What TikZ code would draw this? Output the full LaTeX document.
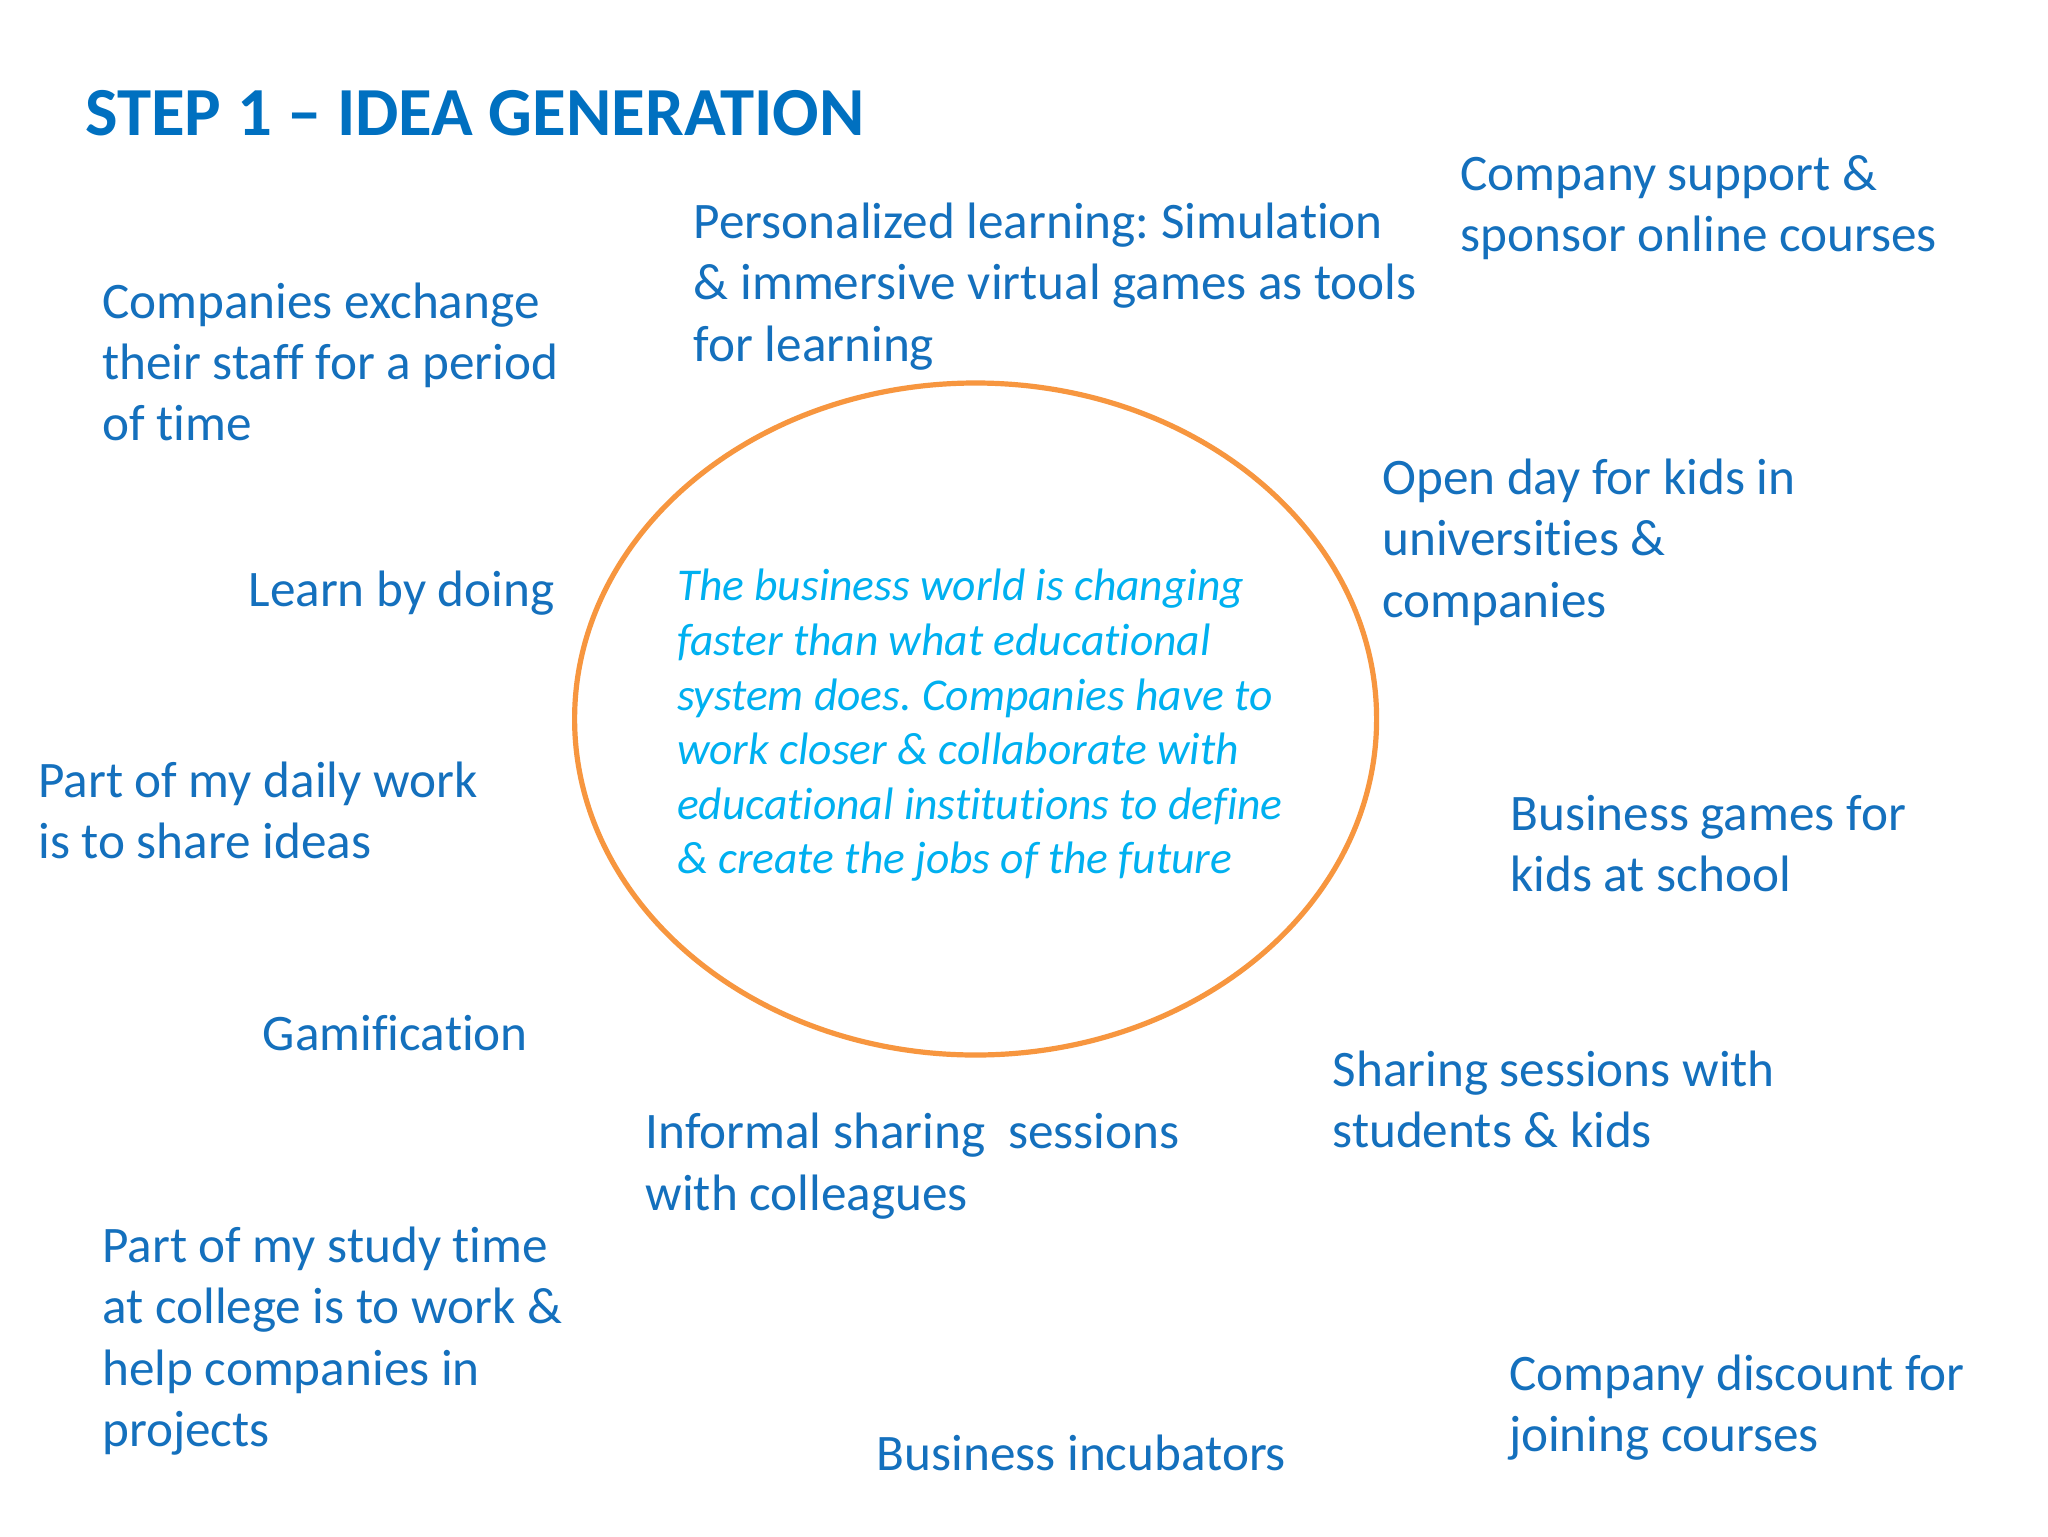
\documentclass[tikz,border=0pt]{standalone}
\usepackage{fontspec}
\setmainfont{Carlito}[Ligatures=NoCommon]
\frenchspacing
\definecolor{titleblue}{HTML}{0070C0}
\definecolor{bodyblue}{HTML}{1470BD}
\definecolor{centerblue}{HTML}{00B0F0}
\definecolor{ringorange}{HTML}{F7963F}
\begin{document}
\begin{tikzpicture}[x=0.5pt,y=-0.5pt,
  idea/.style={anchor=base west,inner sep=0pt,align=left,text=bodyblue,
    font=\fontsize{25.6}{30.7}\selectfont},
  titletext/.style={anchor=base west,inner sep=0pt,text=titleblue,
    font=\fontsize{34.4}{40}\selectfont\bfseries},
  centertext/.style={anchor=base west,inner sep=0pt,align=left,text=centerblue,
    font=\fontsize{22.75}{27.3}\selectfont\itshape},
  ring/.style={draw=ringorange,line width=2.6pt}]
\useasboundingbox[fill=white] (0,0) rectangle (2048,1536);
\node[titletext] (title) at (85,135) {STEP 1 – IDEA GENERATION};
\draw[ring] (975.6,719) ellipse [x radius=401, y radius=336];
\node[centertext] (core) at (676.6,873.9) {The business world is changing\\faster than what educational\\system does. Companies have to\\work closer \& collaborate with\\educational institutions to define\\\& create the jobs of the future};
\node[idea] (exchange) at (101.9,440.8) {Companies exchange\\their staff for a period\\of time};
\node[idea] (personal) at (693.5,361.1) {Personalized learning: Simulation\\\& immersive virtual games as tools\\for learning};
\node[idea] (support) at (1460.2,251.4) {Company support \&\\sponsor online courses};
\node[idea] (openday) at (1381.9,617.1) {Open day for kids in\\universities \&\\companies};
\node[idea] (learn) at (248.2,606.7) {Learn by doing};
\node[idea] (daily) at (37.9,858.8) {Part of my daily work\\is to share ideas};
\node[idea] (games) at (1509.9,891.4) {Business games for\\kids at school};
\node[idea] (gamif) at (262.5,1050.7) {Gamification};
\node[idea] (sharing) at (1332.2,1147.4) {Sharing sessions with\\students \& kids};
\node[idea] (informal) at (645.2,1210.1) {Informal sharing\ \ sessions\\with colleagues};
\node[idea] (study) at (101.9,1446.5) {Part of my study time\\at college is to work \&\\help companies in\\projects};
\node[idea] (incub) at (876.4,1470.0) {Business incubators};
\node[idea] (discount) at (1508.6,1451.7) {Company discount for\\joining courses};
\end{tikzpicture}
\end{document}
